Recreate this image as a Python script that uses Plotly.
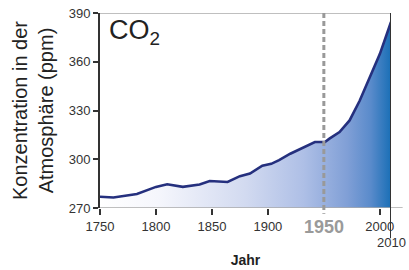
import plotly.graph_objects as go

years = [1750, 1762, 1783, 1800, 1810, 1824, 1839, 1848, 1864, 1875, 1884, 1895, 1903, 1910, 1920, 1930, 1942, 1951, 1955, 1964, 1973, 1982, 1991, 2000, 2010]
co2 = [276.9, 276.5, 278.6, 283.0, 284.6, 283.0, 284.5, 286.6, 286.0, 289.6, 291.2, 296.0, 297.2, 299.5, 303.4, 306.5, 310.6, 310.6, 312.7, 316.7, 323.9, 336.0, 350.0, 364.7, 384.5]

x_tickvals = [1750, 1800, 1850, 1900, 2000]
x_ticktext = ["1750", "1800", "1850", "1900", "2000"]
y_tickvals = [270, 300, 330, 360, 390]
highlight_year = 1950
end_year = 2010

fig = go.Figure()
fig.add_trace(go.Scatter(
    x=years, y=co2, mode="lines",
    line=dict(color="#25307e", width=2.6),
    fill="tozeroy",
    fillgradient=dict(
        type="horizontal",
        colorscale=[
            [0.0, "#ffffff"],
            [0.2, "#f5f6fc"],
            [0.5, "#d2daf0"],
            [0.7, "#aebfe6"],
            [0.85, "#809fd6"],
            [0.93, "#5a8bcb"],
            [1.0, "#1a6fb6"],
        ],
    ),
    hoverinfo="skip",
))

fig.update_layout(
    width=409, height=270,
    margin=dict(l=100, r=18, t=13, b=62),
    paper_bgcolor="white", plot_bgcolor="white",
    showlegend=False,
    font=dict(family="Liberation Sans, Arial, sans-serif", color="#333333", size=13),
    xaxis=dict(
        range=[1750, 2010], tickvals=x_tickvals, ticktext=x_ticktext,
        ticks="outside", ticklen=6, tickwidth=1.5, tickcolor="#333333",
        showgrid=False, zeroline=False, showline=False, automargin=False,
        tickfont=dict(size=13, color="#333333"),
        title=dict(text="<b>Jahr</b>", font=dict(size=14, color="#222222"), standoff=22),
    ),
    yaxis=dict(
        range=[270, 390], tickvals=y_tickvals,
        ticks="outside", ticklen=5, tickwidth=1.5, tickcolor="#333333",
        showgrid=False, zeroline=False, automargin=False,
        showline=True, linecolor="#333333", linewidth=2,
        tickfont=dict(size=13, color="#333333"),
        title=dict(text="Konzentration in der<br>Atmosphäre (ppm)",
                   font=dict(size=20, color="#222222"), standoff=10),
    ),
)

# top and bottom reference lines
fig.add_shape(type="line", xref="paper", yref="y", x0=0, x1=1, y0=390, y1=390,
              line=dict(color="#aaaaaa", width=1.5))
fig.add_shape(type="line", xref="paper", yref="y", x0=0, x1=1.04, y0=270, y1=270,
              line=dict(color="#aaaaaa", width=1.5))
# right border extending to 2010 label
fig.add_shape(type="line", xref="x", yref="paper", x0=end_year, x1=end_year, y0=1, y1=-0.155,
              line=dict(color="#333333", width=2))
# 1950 dashed line
fig.add_shape(type="line", xref="x", yref="paper", x0=highlight_year, x1=highlight_year, y0=1, y1=-0.03,
              line=dict(color="#999999", width=3, dash="5px,3px"))

fig.add_annotation(x=highlight_year, y=-0.035, xref="x", yref="paper", yanchor="top",
                   text="<b>1950</b>", showarrow=False,
                   font=dict(size=18, color="#9a9a9a"))
fig.add_annotation(x=end_year, y=-0.13, xref="x", yref="paper", yanchor="top",
                   text="2010", showarrow=False,
                   font=dict(size=13, color="#333333"))
fig.add_annotation(x=0.025, y=1.0, xref="paper", yref="paper", xanchor="left", yanchor="top",
                   text="CO<sub>2</sub>", showarrow=False,
                   font=dict(size=27, color="#222222", family="Liberation Sans, Arial, sans-serif"))

fig.write_html("out.html", config={"displayModeBar": False},
               post_script="document.body.style.margin='0';document.body.style.padding='0';")
